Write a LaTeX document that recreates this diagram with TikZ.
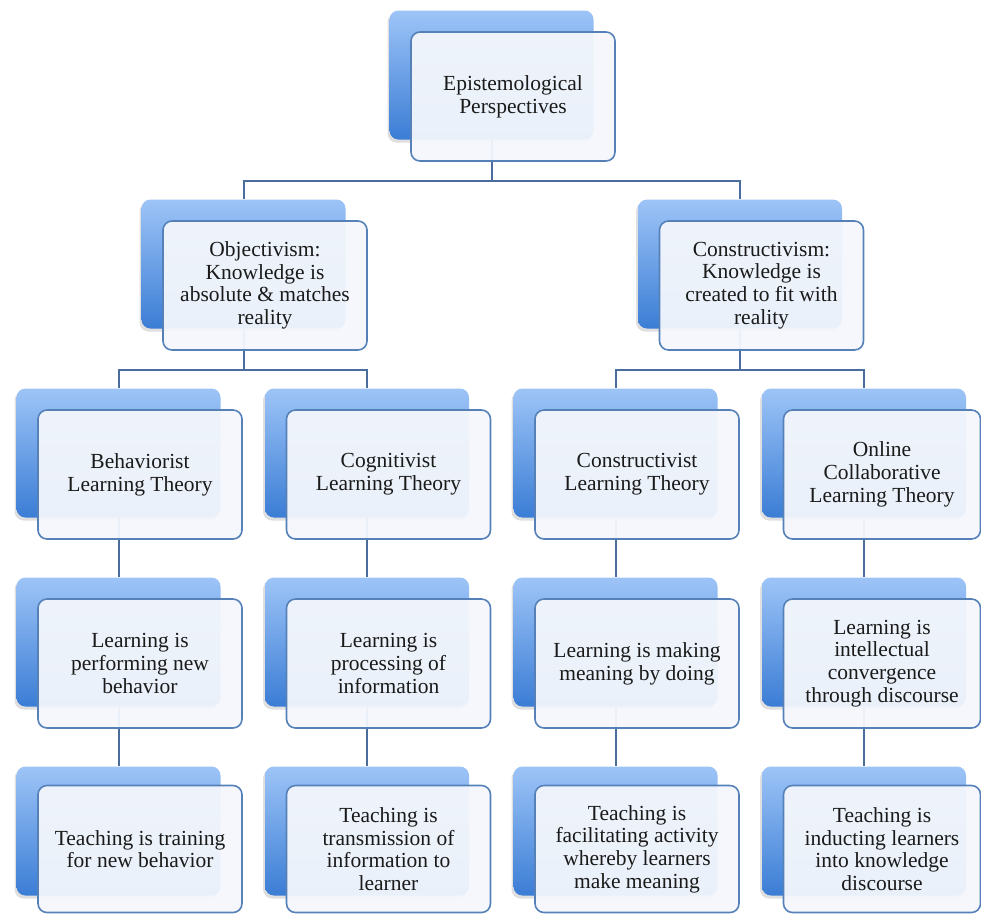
\documentclass[tikz,border=0pt]{standalone}
\usepackage{fontspec}
\setmainfont{Liberation Serif}
\usetikzlibrary{calc,positioning,shadows}
\pgfdeclarelayer{background}
\pgfsetlayers{background,main}
\definecolor{backtop}{HTML}{9DC4F7}
\definecolor{backbot}{HTML}{3B7DD5}
\definecolor{frontline}{HTML}{5581B8}
\definecolor{frontfill}{HTML}{F4F7FC}
\definecolor{connline}{HTML}{4A6D9E}
\definecolor{textdark}{HTML}{1A1A1A}

\begin{document}
\begin{tikzpicture}[
    x=1pt, y=-1pt,
    back/.style  = {rectangle, rounded corners=9pt, minimum width=204pt, minimum height=129pt,
                    top color=backtop, bottom color=backbot,
                    drop shadow={shadow xshift=-2pt, shadow yshift=-3pt, opacity=.25}},
    front/.style = {rectangle, rounded corners=9pt, minimum width=204pt, minimum height=129pt,
                    draw=frontline, line width=1.6pt, fill=frontfill, fill opacity=.95, text opacity=1,
                    text=textdark, align=center, inner sep=0pt,
                    font=\fontsize{21.5}{22.7}\selectfont},
    conn/.style  = {draw=connline, line width=2pt},
  ]
	\useasboundingbox (0,0) rectangle (981,914);

	% Ebene 1
	\node[back] (B1) at (491.5,75) {};
	\node[front] (F1) at ($ (B1) + (21.5,21.5) $) {Epistemological\\Perspectives};

	% Ebene 2
	\node[back] (B2l) at (243.5,264) {};
	\node[back] (B2r) at (740,264) {};
	\node[front] (F2l) at ($ (B2l) + (21.5,21.5) $) {Objectivism:\\Knowledge is\\absolute \& matches\\reality};
	\node[front] (F2r) at ($ (B2r) + (21.5,21.5) $) {Constructivism:\\Knowledge is\\created to fit with\\reality};

	% Ebene 3: Theorien
	\node[back] (B3a) at (118.5,453) {};
	\node[back] (B3b) at (367,453) {};
	\node[back] (B3c) at (615.5,453) {};
	\node[back] (B3d) at (864,453) {};
	\node[front] (F3a) at ($ (B3a) + (21.5,21.5) $) {Behaviorist\\Learning Theory};
	\node[front] (F3b) at ($ (B3b) + (21.5,21.5) $) {Cognitivist\\Learning Theory};
	\node[front] (F3c) at ($ (B3c) + (21.5,21.5) $) {Constructivist\\Learning Theory};
	\node[front, minimum width=197pt] (F3d) at ($ (B3d) + (18,21.5) $) {Online\\Collaborative\\Learning Theory};

	% Ebene 4: Lernen
	\node[back] (B4a) at (118.5,642) {};
	\node[back] (B4b) at (367,642) {};
	\node[back] (B4c) at (615.5,642) {};
	\node[back] (B4d) at (864,642) {};
	\node[front] (F4a) at ($ (B4a) + (21.5,21.5) $) {Learning is\\performing new\\behavior};
	\node[front] (F4b) at ($ (B4b) + (21.5,21.5) $) {Learning is\\processing of\\information};
	\node[front] (F4c) at ($ (B4c) + (21.5,21.5) $) {Learning is making\\meaning by doing};
	\node[front, minimum width=197pt] (F4d) at ($ (B4d) + (18,21.5) $) {Learning is\\intellectual\\convergence\\through discourse};

	% Ebene 5: Lehren (unten etwas niedriger)
	\node[back] (B5a) at (118.5,831) {};
	\node[back] (B5b) at (367,831) {};
	\node[back] (B5c) at (615.5,831) {};
	\node[back] (B5d) at (864,831) {};
	\node[front, minimum height=127pt] (F5a) at ($ (B5a) + (21.5,18) $) {Teaching is training\\for new behavior};
	\node[front, minimum height=127pt] (F5b) at ($ (B5b) + (21.5,18) $) {Teaching is\\transmission of\\information to\\learner};
	\node[front, minimum height=127pt] (F5c) at ($ (B5c) + (21.5,18) $) {Teaching is\\facilitating activity\\whereby learners\\make meaning};
	\node[front, minimum height=127pt, minimum width=197pt] (F5d) at ($ (B5d) + (18,18) $) {Teaching is\\inducting learners\\into knowledge\\discourse};

	% Verbindungen (hinter den Kästen)
	\begin{pgfonlayer}{background}
	\coordinate (m1) at ($ (F1.south)!.5!(B2l.north) $);
	\coordinate (m2) at ($ (F2l.south)!.5!(B3a.north) $);
	\draw[conn] (B1.south) -- (B1.south |- m1) -| (B2l.north);
	\draw[conn] (B1.south |- m1) -| (B2r.north);
	\draw[conn] (B2l.south) -- (B2l.south |- m2) -| (B3a.north);
	\draw[conn] (B2l.south |- m2) -| (B3b.north);
	\draw[conn] (B2r.south) -- (B2r.south |- m2) -| (B3c.north);
	\draw[conn] (B2r.south |- m2) -| (B3d.north);
	\draw[conn] (B3a.south) -- (B4a.north);
	\draw[conn] (B3b.south) -- (B4b.north);
	\draw[conn] (B3c.south) -- (B4c.north);
	\draw[conn] (B3d.south) -- (B4d.north);
	\draw[conn] (B4a.south) -- (B5a.north);
	\draw[conn] (B4b.south) -- (B5b.north);
	\draw[conn] (B4c.south) -- (B5c.north);
	\draw[conn] (B4d.south) -- (B5d.north);
	\end{pgfonlayer}

\end{tikzpicture}
\end{document}
